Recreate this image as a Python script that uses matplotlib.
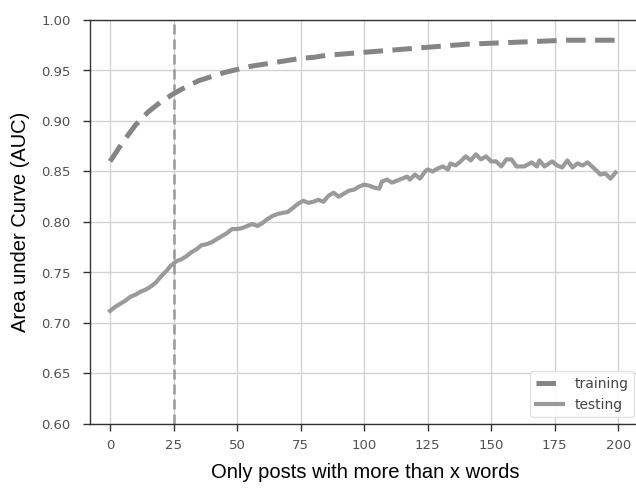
import matplotlib
matplotlib.use("Agg")
import matplotlib.pyplot as plt

train_x = [0, 5, 10, 15, 20, 25, 30, 35, 40, 45, 50, 55, 60, 65, 70, 75, 80, 85, 90, 95,
           100, 110, 120, 130, 140, 150, 160, 170, 180, 190, 199]
train_y = [0.860, 0.879, 0.896, 0.909, 0.919, 0.927, 0.934, 0.940, 0.944, 0.948, 0.951,
           0.954, 0.956, 0.958, 0.960, 0.962, 0.963, 0.965, 0.966, 0.967, 0.968, 0.970,
           0.972, 0.974, 0.976, 0.977, 0.978, 0.979, 0.980, 0.980, 0.980]

test_x = [0, 2, 4, 6, 8, 10, 12, 14, 16, 18, 20, 22, 24, 26, 28, 30, 32, 34, 36, 38, 40,
          42, 44, 46, 48, 50, 52, 54, 56, 58, 60, 62, 64, 66, 68, 70, 72, 74, 76, 78, 80,
          82, 84, 86, 88, 90, 92, 94, 96, 98, 100, 102, 104, 106, 107, 109, 111, 113, 115,
          117, 118, 120, 122, 124, 125, 127, 129, 131, 133, 134, 136, 138, 140, 142, 144,
          146, 148, 150, 152, 154, 156, 158, 160, 163, 166, 168, 169, 171, 174, 176, 178,
          180, 182, 184, 186, 188, 191, 193, 195, 197, 199]
test_y = [0.712, 0.716, 0.719, 0.722, 0.726, 0.728, 0.731, 0.733, 0.736, 0.740, 0.746,
          0.751, 0.757, 0.761, 0.763, 0.766, 0.770, 0.773, 0.777, 0.778, 0.780, 0.783,
          0.786, 0.789, 0.793, 0.793, 0.794, 0.796, 0.798, 0.796, 0.799, 0.803, 0.806,
          0.808, 0.809, 0.810, 0.814, 0.818, 0.821, 0.819, 0.820, 0.822, 0.820, 0.826,
          0.829, 0.825, 0.828, 0.831, 0.832, 0.835, 0.837, 0.836, 0.834, 0.833, 0.840,
          0.842, 0.839, 0.841, 0.843, 0.845, 0.842, 0.847, 0.843, 0.850, 0.852, 0.850,
          0.853, 0.855, 0.852, 0.858, 0.856, 0.860, 0.865, 0.861, 0.867, 0.862, 0.865,
          0.860, 0.860, 0.855, 0.862, 0.862, 0.855, 0.855, 0.859, 0.855, 0.861, 0.855,
          0.860, 0.856, 0.854, 0.861, 0.854, 0.858, 0.856, 0.859, 0.852, 0.847, 0.848,
          0.843, 0.849]

cutoff = 25
x_ticks = [0, 25, 50, 75, 100, 125, 150, 175, 200]
y_ticks = [0.60, 0.65, 0.70, 0.75, 0.80, 0.85, 0.90, 0.95, 1.00]

fig = plt.figure(figsize=(6.36, 4.88), dpi=100)
# axes extends slightly past the right edge (reference is cropped there)
ax = fig.add_axes([90/636, 64/488, (641-90)/636, (424-20)/488])

ax.grid(True, color="#d2d2d2", linewidth=1.0, zorder=0)
ax.set_axisbelow(True)

ax.plot(train_x, train_y, color="#858585", linewidth=3.6, linestyle=(0, (3.9, 1.9)),
        label="training", zorder=3)
ax.plot(test_x, test_y, color="#9a9a9a", linewidth=3.0, label="testing", zorder=3)
ax.axvline(cutoff, color="#9a9a9a", linewidth=1.8, linestyle=(0, (4, 2)), zorder=2)

ax.set_xlim(-7.9, 209.0)
ax.set_ylim(0.60, 1.00)
ax.set_xticks(x_ticks)
ax.set_yticks(y_ticks)
ax.set_yticklabels([f"{v:.2f}" for v in y_ticks])

for s in ["left", "bottom", "top", "right"]:
    ax.spines[s].set_color("#333333")
    ax.spines[s].set_linewidth(1.0)

ax.tick_params(axis="both", direction="out", length=5, width=1, color="#333333",
               labelcolor="#505050", labelsize=9.5)
ax.tick_params(axis="x", pad=6)
ax.tick_params(axis="y", pad=9)

ax.set_xlabel("Only posts with more than x words", fontsize=14.5,
              family=["Liberation Sans", "DejaVu Sans"], labelpad=8)
ax.set_ylabel("Area under Curve (AUC)", fontsize=14.5,
              family=["Liberation Sans", "DejaVu Sans"], labelpad=8)

leg = ax.legend(loc="lower right", fontsize=10, frameon=True, framealpha=0.85,
                edgecolor="#dddddd", fancybox=True, borderaxespad=0.5)
for t in leg.get_texts():
    t.set_color("#444444")

fig.savefig("out.png", dpi=100)
